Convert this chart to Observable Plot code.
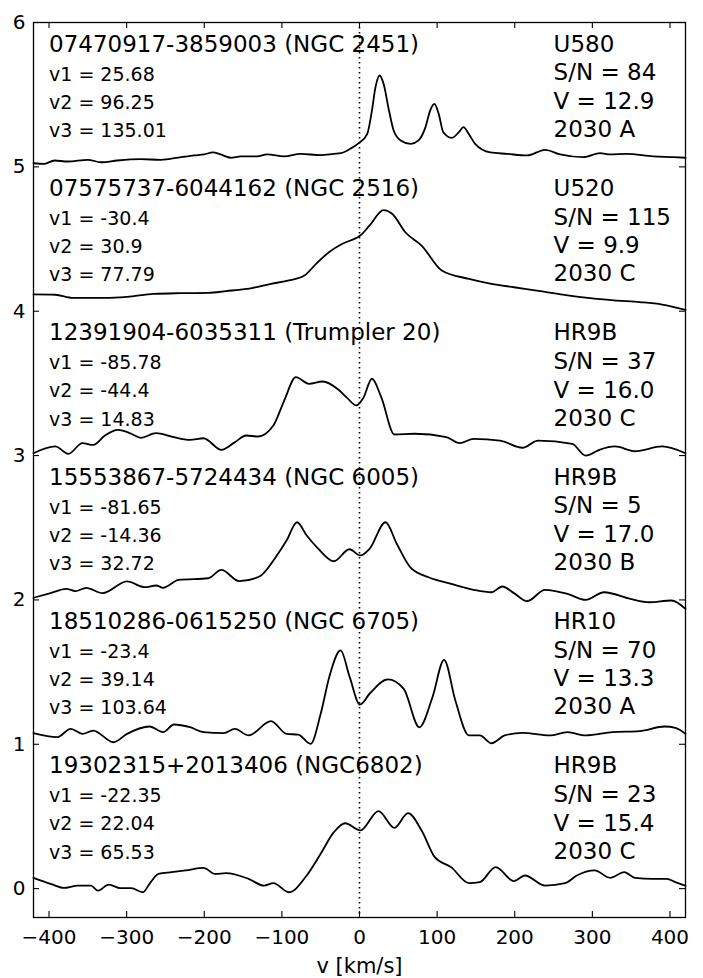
<!DOCTYPE html>
<html>
<head>
<meta charset="utf-8">
<script src="https://cdn.jsdelivr.net/npm/d3@7"></script>
<script src="https://cdn.jsdelivr.net/npm/@observablehq/plot@0.6"></script>
<style>
  html, body { margin: 0; padding: 0; background: #fff; }
  #chart svg { display: block; }
</style>
</head>
<body>
<div id="chart"></div>
<script>
// ---- data ----
const offsets = [5, 4, 3, 2, 1, 0];
const starIds = [
  "07470917-3859003 (NGC 2451)",
  "07575737-6044162 (NGC 2516)",
  "12391904-6035311 (Trumpler 20)",
  "15553867-5724434 (NGC 6005)",
  "18510286-0615250 (NGC 6705)",
  "19302315+2013406 (NGC6802)"
];
const v1Vals = ["25.68", "-30.4", "-85.78", "-81.65", "-23.4", "-22.35"];
const v2Vals = ["96.25", "30.9", "-44.4", "-14.36", "39.14", "22.04"];
const v3Vals = ["135.01", "77.79", "14.83", "32.72", "103.64", "65.53"];
const setups = ["U580", "U520", "HR9B", "HR9B", "HR10", "HR9B"];
const snrVals = ["84", "115", "37", "5", "70", "23"];
const vmagVals = ["12.9", "9.9", "16.0", "17.0", "13.3", "15.4"];
const templates = ["2030 A", "2030 C", "2030 C", "2030 B", "2030 A", "2030 C"];

const xTicks = [-400, -300, -200, -100, 0, 100, 200, 300, 400];
const yTicks = [0, 1, 2, 3, 4, 5, 6];
const xLabel = "v [km/s]";

// CCF curves [v (km/s), ccf + offset]
const ccf1 = [[-420,5.025],[-406,5.021],[-393,5.044],[-376,5.037],[-350,5.049],[-333,5.032],[-312,5.044],[-282,5.053],[-256,5.049],[-230,5.067],[-213,5.079],[-200,5.086],[-189,5.10],[-179,5.086],[-166,5.063],[-153,5.072],[-132,5.072],[-119,5.086],[-97,5.072],[-76,5.09],[-50,5.081],[-33,5.09],[-24,5.095],[-12,5.125],[-1,5.164],[10,5.229],[16,5.39],[20.6,5.552],[26,5.633],[31,5.575],[38,5.39],[44,5.252],[53,5.183],[66,5.159],[76,5.183],[85,5.275],[91,5.39],[96.5,5.436],[102,5.367],[108,5.24],[119,5.201],[128,5.24],[134,5.275],[140.6,5.229],[149,5.159],[168.5,5.10],[190,5.09],[216,5.079],[239,5.118],[258.5,5.086],[288.5,5.067],[310,5.095],[323,5.086],[344,5.09],[378.5,5.072],[404,5.067],[420,5.063]];
const ccf2 = [[-420,4.116],[-392,4.114],[-369,4.093],[-328,4.093],[-299.5,4.10],[-265,4.12],[-230,4.125],[-195,4.127],[-172,4.139],[-137,4.162],[-114,4.19],[-91,4.213],[-71,4.247],[-56,4.328],[-39,4.41],[-22,4.467],[-4,4.508],[1,4.524],[13,4.594],[31,4.70],[42,4.675],[59,4.547],[80,4.455],[106,4.282],[141,4.224],[170,4.19],[199,4.166],[233,4.139],[268,4.109],[297,4.09],[332,4.074],[361,4.063],[390,4.046],[420,4.009]];
const ccf3 = [[-420,3.016],[-392,3.063],[-375,3.012],[-357,3.086],[-343,3.074],[-328,3.139],[-311,3.178],[-294,3.151],[-282,3.123],[-262,3.155],[-242,3.132],[-218.5,3.109],[-201,3.12],[-178,3.04],[-160.5,3.093],[-146,3.139],[-131,3.132],[-111,3.208],[-97,3.381],[-82,3.543],[-65,3.497],[-47.5,3.513],[-27,3.456],[-16,3.40],[-4,3.347],[5,3.40],[16,3.532],[28,3.405],[45,3.146],[71,3.151],[112,3.127],[129,3.086],[147,3.116],[181,3.104],[210,3.054],[230,3.104],[274,3.081],[291.5,3.0],[309,3.04],[329,3.063],[355,3.03],[390,3.063],[420,3.016]];
const ccf4 = [[-420,2.015],[-398,2.047],[-378,2.077],[-366,2.061],[-352,2.084],[-331,2.047],[-299.5,2.128],[-276.5,2.088],[-262,2.10],[-253,2.084],[-233,2.139],[-195,2.15],[-178,2.208],[-155,2.13],[-129,2.162],[-108,2.296],[-94,2.411],[-80.5,2.538],[-68,2.446],[-53,2.354],[-33,2.268],[-13,2.351],[1,2.308],[13,2.354],[33.5,2.538],[48,2.389],[65.5,2.226],[89,2.157],[118,2.111],[147,2.07],[170,2.053],[184,2.093],[199,2.047],[216,1.991],[239,2.07],[268,2.042],[291.5,2.0],[315,2.053],[349,2.007],[373,1.984],[402,1.996],[420,1.938]];
const ccf5 = [[-420,1.077],[-389.5,1.049],[-372,1.107],[-357,1.072],[-343,1.095],[-317,1.014],[-299.5,1.072],[-270.5,1.123],[-253,1.084],[-239,1.137],[-218.5,1.118],[-201,1.084],[-175,1.077],[-160.5,1.107],[-143,1.061],[-114,1.16],[-94,1.072],[-79,1.067],[-63,1.003],[-50,1.211],[-39,1.465],[-24.4,1.65],[-12.6,1.465],[0.6,1.275],[13,1.35],[36.5,1.449],[57,1.384],[77,1.118],[94,1.326],[109,1.585],[123.5,1.303],[141,1.061],[155,1.061],[170,1.007],[187,1.061],[210,1.079],[245,1.061],[268,1.084],[291.5,1.061],[326,1.084],[361,1.091],[393,1.123],[407,1.114],[420,1.072]];
const ccf6 = [[-420,0.075],[-398,0.033],[-381,0.005],[-363,0.021],[-346,0.021],[-337,-0.014],[-323,0.028],[-308,0.003],[-294,0.003],[-279,-0.025],[-270.5,0.033],[-259,0.102],[-242,0.114],[-224,0.126],[-201,0.144],[-186,0.102],[-172,0.107],[-143,0.068],[-123,0.021],[-111,0.038],[-91,-0.025],[-68,0.091],[-50,0.241],[-33,0.391],[-18.5,0.453],[1,0.403],[24.5,0.537],[45,0.421],[62.5,0.523],[80,0.403],[97,0.218],[118,0.149],[141,0.038],[155,0.045],[175.5,0.149],[199,0.052],[213,0.091],[239,0.021],[265,0.038],[280,0.091],[303,0.126],[323,0.075],[341,0.114],[355,0.075],[378,0.068],[396,0.068],[407,0.045],[420,0.021]];

// ---- build tables ----
const curves = [ccf1, ccf2, ccf3, ccf4, ccf5, ccf6];
const points = curves.flatMap((c, i) => c.map(([v, y]) => ({star: i, v, y})));

const leftLines = offsets.flatMap((o, i) => [
  {x: -400, y: o + 0.85, text: starIds[i], size: 23},
  {x: -400, y: o + 0.64, text: "v1 = " + v1Vals[i], size: 19},
  {x: -400, y: o + 0.445, text: "v2 = " + v2Vals[i], size: 19},
  {x: -400, y: o + 0.25, text: "v3 = " + v3Vals[i], size: 19}
]);
const rightLines = offsets.flatMap((o, i) => [
  {x: 250, y: o + 0.85, text: setups[i]},
  {x: 250, y: o + 0.65, text: "S/N = " + snrVals[i]},
  {x: 250, y: o + 0.452, text: "V = " + vmagVals[i]},
  {x: 250, y: o + 0.258, text: templates[i]}
]);

const W = 703, H = 978;
const mT = 22, mR = 18, mB = 61, mL = 33;
const pw = W - mL - mR, ph = H - mT - mB;
const tick = 6;
const fmt = d => d < 0 ? "\u2212" + Math.abs(d) : String(d);

const chart = Plot.plot({
  width: W,
  height: H,
  marginTop: mT, marginRight: mR, marginBottom: mB, marginLeft: mL,
  style: {fontFamily: "'DejaVu Sans', sans-serif", fontSize: "20px", color: "black", background: "white"},
  x: {domain: [-420, 420]},
  y: {domain: [-0.2, 6]},
  marks: [
    Plot.ruleX([0], {stroke: "black", strokeWidth: 1.6, strokeDasharray: "1.6,3.4"}),
    Plot.line(points, {x: "v", y: "y", z: "star", stroke: "black", strokeWidth: 1.8, curve: "monotone-x"}),
    // inward ticks on all four sides
    Plot.tickX(xTicks, {x: d => d, stroke: "black", strokeWidth: 1.1, insetTop: ph - tick}),
    Plot.tickX(xTicks, {x: d => d, stroke: "black", strokeWidth: 1.1, insetBottom: ph - tick}),
    Plot.tickY(yTicks, {y: d => d, stroke: "black", strokeWidth: 1.1, insetRight: pw - tick}),
    Plot.tickY(yTicks, {y: d => d, stroke: "black", strokeWidth: 1.1, insetLeft: pw - tick}),
    Plot.axisX(xTicks, {anchor: "bottom", tickSize: 0, tickPadding: 12, tickFormat: fmt, fontSize: 20, label: null}),
    Plot.axisY(yTicks, {anchor: "left", tickSize: 0, tickPadding: 8, tickFormat: fmt, fontSize: 20, label: null}),
    Plot.text([xLabel], {text: d => d, frameAnchor: "bottom", dy: 49, lineAnchor: "middle", fontSize: 21, fill: "black"}),
    Plot.text(leftLines, {x: "x", y: "y", text: "text", fontSize: "size", textAnchor: "start", lineAnchor: "middle", fill: "black"}),
    Plot.text(rightLines, {x: "x", y: "y", text: "text", fontSize: 23, textAnchor: "start", lineAnchor: "middle", fill: "black"}),
    Plot.frame({stroke: "black", strokeWidth: 1.3})
  ]
});
document.getElementById("chart").appendChild(chart);
</script>
</body>
</html>
